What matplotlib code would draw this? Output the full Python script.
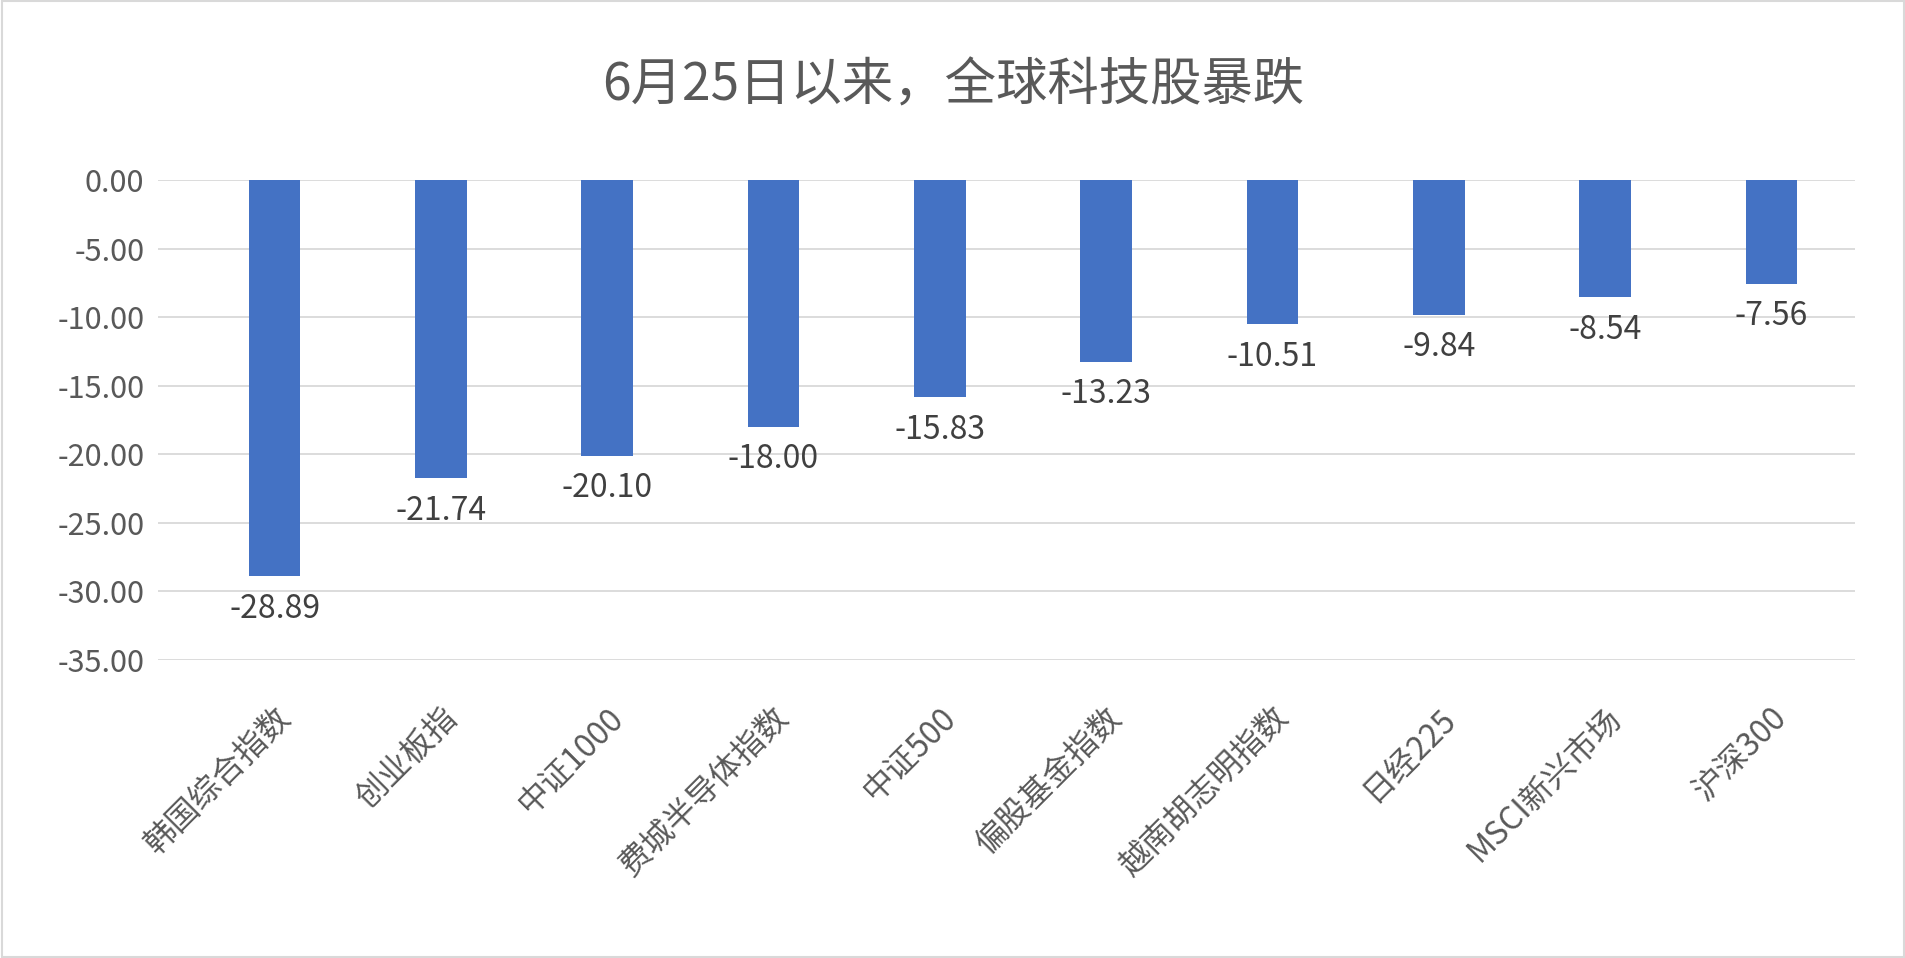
import matplotlib
matplotlib.use("Agg")
import matplotlib.pyplot as plt
from matplotlib.patches import Rectangle

plt.rcParams['font.family'] = ['Noto Sans CJK SC', 'DejaVu Sans']

categories = ["韩国综合指数", "创业板指", "中证1000", "费城半导体指数", "中证500",
              "偏股基金指数", "越南胡志明指数", "日经225", "MSCI新兴市场", "沪深300"]
values = [-28.89, -21.74, -20.10, -18.00, -15.83, -13.23, -10.51, -9.84, -8.54, -7.56]
yticks = [0, -5, -10, -15, -20, -25, -30, -35]

fig = plt.figure(figsize=(19.06, 9.58), dpi=100)
ax = fig.add_axes([0.083, 0.311, 0.89, 0.501])
fig.patches.append(Rectangle((0.001, 0.001), 0.998, 0.998, transform=fig.transFigure,
                             fill=False, edgecolor='#D9D9D9', linewidth=1.5))

x = range(len(categories))
ax.bar(x, values, width=0.31, color='#4472C4', zorder=3)
for i, v in enumerate(values):
    ax.text(i, v - 1.2, f"{v:.2f}", ha='center', va='top', fontsize=23, color='#404040')

ax.set_ylim(-35, 0)
ax.set_xlim(-0.7, len(categories) - 0.5)
ax.set_yticks(yticks)
ax.set_yticklabels([f"{t:.2f}" if t != 0 else "0.00" for t in yticks], fontsize=22, color='#595959')
ax.grid(axis='y', color='#D9D9D9', linewidth=1.3, zorder=0)
ax.set_xticks(list(x))
ax.set_xticklabels(categories, rotation=45, ha='right', rotation_mode='anchor',
                   fontsize=23, color='#595959')
for s in ax.spines.values():
    s.set_visible(False)
ax.tick_params(length=0, pad=10)
ax.tick_params(axis='x', pad=30)
fig.text(0.5, 0.91, "6月25日以来，全球科技股暴跌", ha='center', va='center',
         fontsize=37, color='#595959')
fig.savefig("out.png", dpi=100)
